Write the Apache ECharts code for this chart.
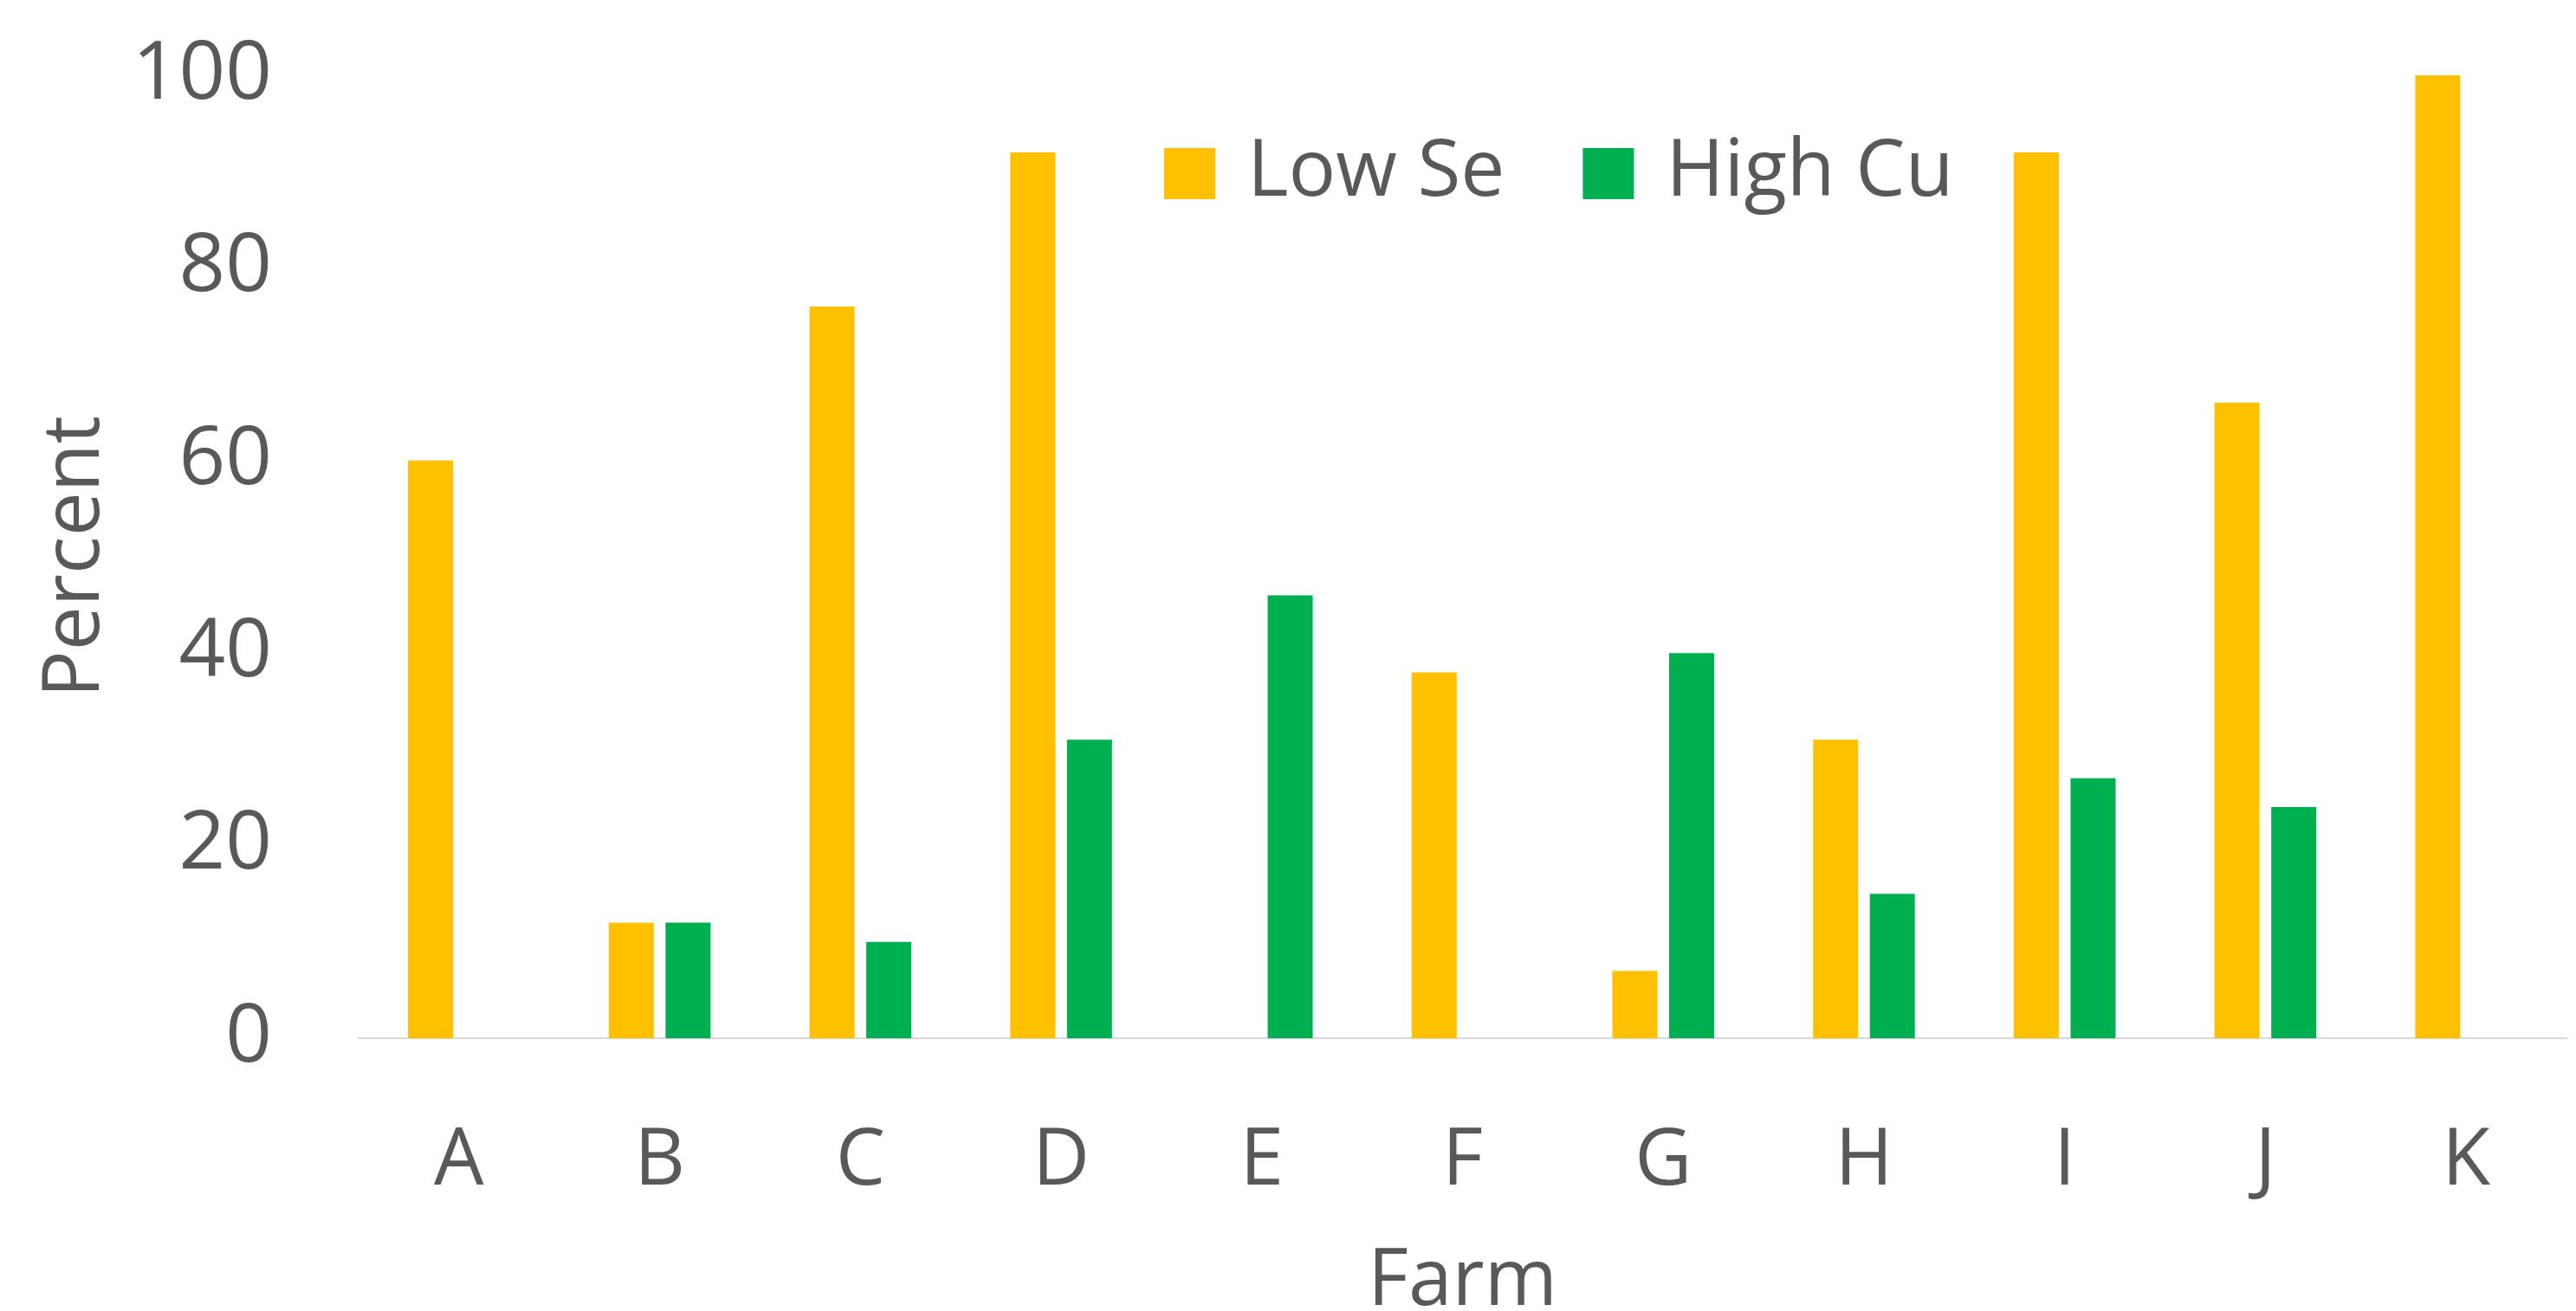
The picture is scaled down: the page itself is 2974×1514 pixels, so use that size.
<!DOCTYPE html>
<html>
<head>
<meta charset="utf-8">
<script src="https://cdn.jsdelivr.net/npm/echarts@6/dist/echarts.min.js"></script>
<style>
html,body{margin:0;padding:0;background:#fff;overflow:hidden;}
#chart{width:2974px;height:1514px;}
</style>
</head>
<body>
<div id="chart"></div>
<script>
const categories = ['A','B','C','D','E','F','G','H','I','J','K'];
const lowSe  = [60, 12, 76, 92, null, 38, 7, 31, 92, 66, 100];
const highCu = [null, 12, 10, 31, 46, null, 40, 15, 27, 24, null];
const yTicks = [0, 20, 40, 60, 80, 100];

const FONT = 'Open Sans';
const TXT = '#595959';
const chart = echarts.init(document.getElementById('chart'));
chart.setOption({
  animation: false,
  backgroundColor: '#ffffff',
  textStyle: {fontFamily: FONT},
  grid: {left: 414, right: 11, top: 87, bottom: 315, containLabel: false, outerBoundsMode: 'none'},
  legend: {
    left: 1339, top: 150,
    itemWidth: 59, itemHeight: 59, itemGap: 90,
    icon: 'rect',
    textStyle: {fontFamily: FONT, fontSize: 91, color: TXT, padding: [0,0,0,32]},
    data: ['Low Se', 'High Cu']
  },
  xAxis: {
    type: 'category',
    data: categories,
    name: 'Farm',
    nameLocation: 'middle',
    nameGap: 237,
    nameTextStyle: {fontFamily: FONT, fontSize: 91, color: TXT},
    axisLine: {show: true, lineStyle: {color: '#D9D9D9', width: 2}},
    axisTick: {show: false},
    axisLabel: {fontFamily: FONT, fontSize: 91, color: TXT, margin: 98}
  },
  yAxis: {
    type: 'value',
    min: yTicks[0], max: yTicks[yTicks.length-1], interval: 20,
    name: 'Percent',
    nameLocation: 'middle',
    nameGap: 280,
    nameTextStyle: {fontFamily: FONT, fontSize: 91, color: TXT},
    axisLine: {show: false},
    axisTick: {show: false},
    splitLine: {show: false},
    axisLabel: {fontFamily: FONT, fontSize: 94, color: TXT, margin: 100}
  },
  series: [
    {name: 'Low Se', type: 'bar', data: lowSe, barWidth: 52, barGap: '26%',
     itemStyle: {color: '#FFC000'}},
    {name: 'High Cu', type: 'bar', data: highCu, barWidth: 52, barGap: '26%',
     itemStyle: {color: '#00B050'}}
  ]
});
</script>
</body>
</html>
